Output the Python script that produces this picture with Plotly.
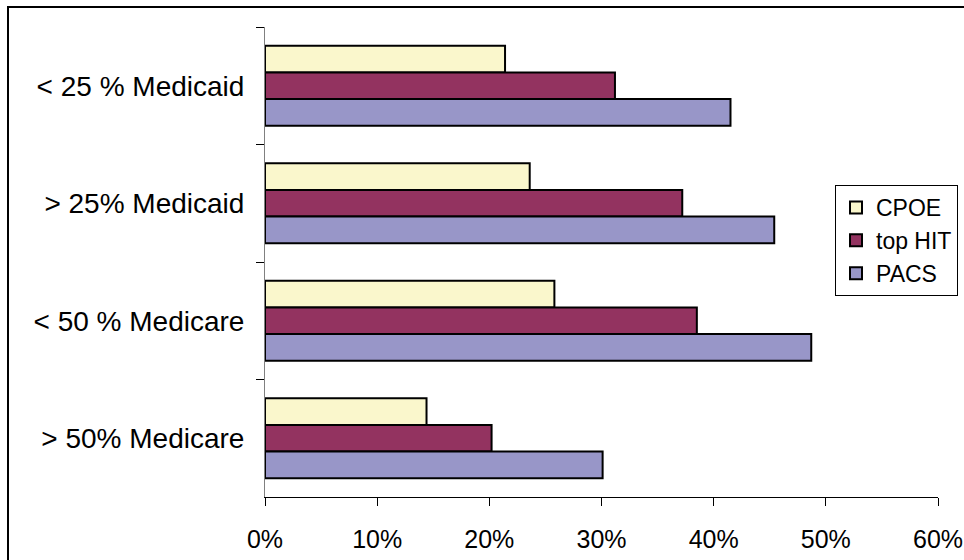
import plotly.graph_objects as go

# Hospital groups (top to bottom) and adoption rates (%) per technology
groups = ["< 25 % Medicaid", "> 25% Medicaid", "< 50 % Medicare", "> 50% Medicare"]
cpoe = [21.4, 23.6, 25.8, 14.4]
top_hit = [31.2, 37.2, 38.5, 20.2]
pacs = [41.5, 45.4, 48.7, 30.1]

x_ticks = [0, 10, 20, 30, 40, 50, 60]
x_tick_labels = ["0%", "10%", "20%", "30%", "40%", "50%", "60%"]

series = [
    ("CPOE", cpoe, "#FAF7CC"),
    ("top HIT", top_hit, "#933360"),
    ("PACS", pacs, "#9896C8"),
]

fig = go.Figure()
for name, vals, color in series:
    fig.add_trace(go.Bar(
        name=name,
        y=groups,
        x=vals,
        orientation="h",
        marker=dict(color=color, line=dict(color="black", width=2)),
    ))

font = "Liberation Sans, Arial, sans-serif"

# plot area in pixels
L, R, T, B = 265, 938, 27, 497
W, H = R - L, B - T

fig.update_layout(
    width=964,
    height=560,
    margin=dict(l=L, r=964 - R, t=T, b=560 - B, autoexpand=False),
    paper_bgcolor="white",
    plot_bgcolor="white",
    barmode="group",
    bargap=0.32,
    bargroupgap=0,
    font=dict(family=font, size=25, color="black"),
    showlegend=True,
    legend=dict(
        x=(835 - L) / W, y=(B - 185) / H, xanchor="left", yanchor="top",
        bgcolor="white", bordercolor="black", borderwidth=1,
        font=dict(family=font, size=23, color="black"),
        traceorder="normal",
        itemsizing="constant",
    ),
    xaxis=dict(
        range=[0, 60],
        tickvals=x_ticks,
        ticktext=x_tick_labels,
        automargin=False,
        ticklabeloverflow="allow",
        showgrid=False,
        zeroline=False,
        showline=True,
        linecolor="black",
        linewidth=1,
        ticks="outside",
        ticklen=8,
        tickcolor="black",
        ticklabelstandoff=12,
        tickfont=dict(size=25),
    ),
    yaxis=dict(
        autorange="reversed",
        automargin=False,
        showgrid=False,
        showline=True,
        linecolor="#808080",
        linewidth=1,
        ticks="outside",
        tickson="boundaries",
        ticklen=8,
        tickcolor="black",
        ticklabelstandoff=14,
        tickfont=dict(size=28),
    ),
    shapes=[
        # chart frame
        dict(type="rect", xref="paper", yref="paper",
             x0=(8 - L) / W, x1=1.2, y0=-0.3, y1=(B - 7) / H,
             line=dict(color="black", width=2), fillcolor="rgba(0,0,0,0)",
             layer="below"),
    ],
)

fig.write_html("out.html")
